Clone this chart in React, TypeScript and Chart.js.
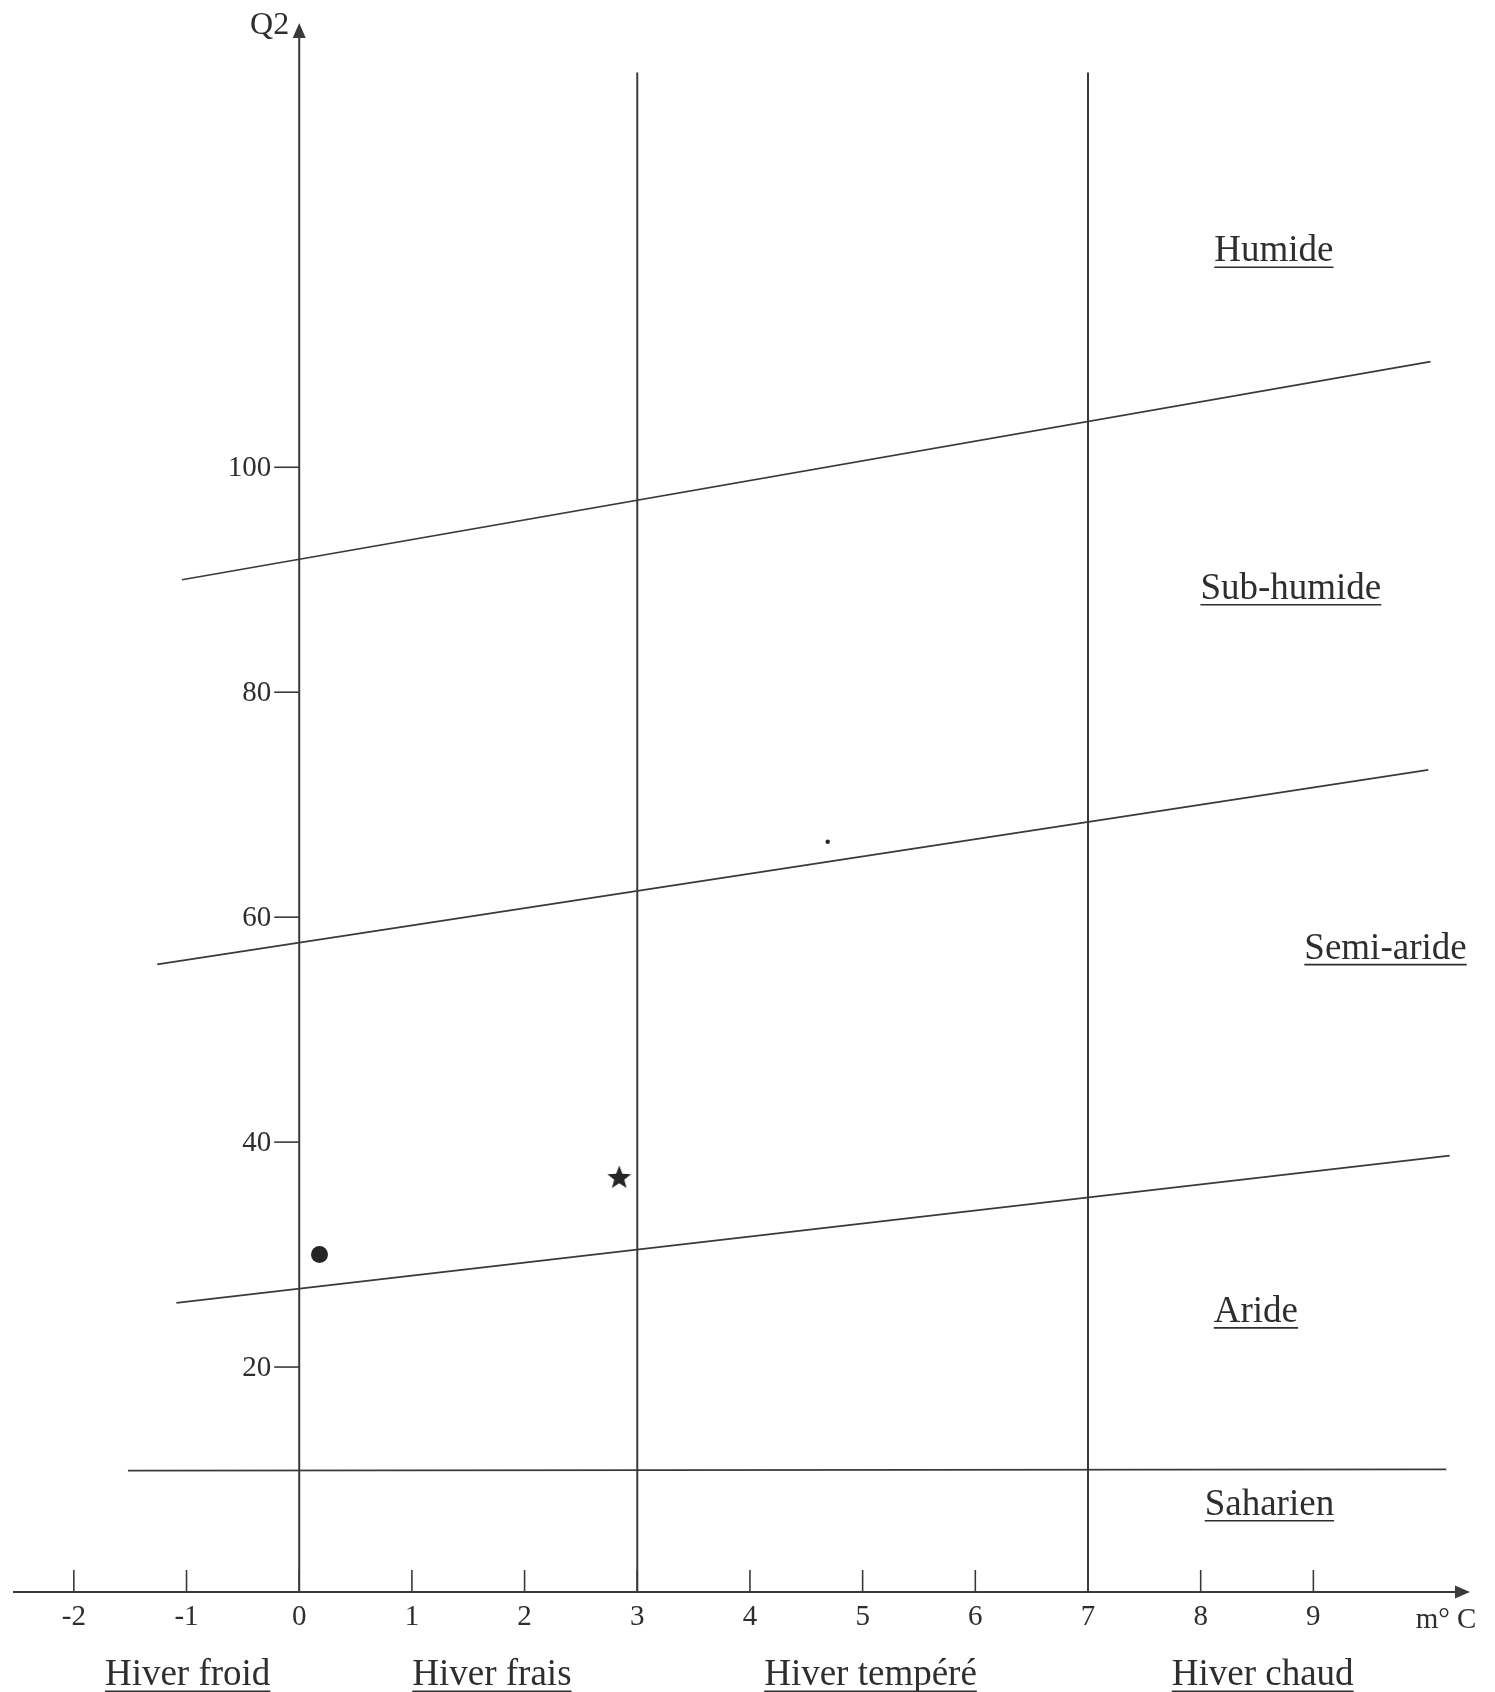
import React, { useEffect, useRef } from 'react';
import { Chart, registerables } from 'chart.js';

Chart.register(...registerables);

// ---- Axis ticks ----
const TEMP_TICKS = [-2, -1, 0, 1, 2, 3, 4, 5, 6, 7, 8, 9];
const Q2_TICKS = [20, 40, 60, 80, 100];
const M_RANGE = [-2.54, 10.39];
const Q2_RANGE = [0, 139.5];

// ---- Bioclimatic limits (m °C, Q2) ----
const LIMIT_HUMIDE_M = [-1.04, 10.04];
const LIMIT_HUMIDE_Q2 = [90.0, 109.4];
const LIMIT_SUBHUMIDE_M = [-1.26, 10.02];
const LIMIT_SUBHUMIDE_Q2 = [55.8, 73.1];
const LIMIT_SEMIARIDE_M = [-1.09, 10.21];
const LIMIT_SEMIARIDE_Q2 = [25.7, 38.8];
const LIMIT_ARIDE_M = [-1.52, 10.18];
const LIMIT_ARIDE_Q2 = [10.8, 10.9];

// ---- Winter limits ----
const WINTER_LIMITS_M = [3, 7];
const WINTER_LIMIT_Q2 = [0, 135.1];

// ---- Stations ----
const CIRCLE_STATION_M = [0.18];
const CIRCLE_STATION_Q2 = [30.0];
const STAR_STATION_M = [2.84];
const STAR_STATION_Q2 = [36.9];
const DOT_M = [4.69];
const DOT_Q2 = [66.7];

// ---- Zone labels ----
const ZONE_NAMES = ['Humide', 'Sub-humide', 'Semi-aride', 'Aride', 'Saharien'];
const ZONE_LABEL_M = [8.65, 8.8, 9.64, 8.49, 8.61];
const ZONE_LABEL_Q2 = [119.4, 89.4, 57.4, 25.1, 7.96];

// ---- Winter labels ----
const WINTER_NAMES = ['Hiver froid', 'Hiver frais', 'Hiver tempéré', 'Hiver chaud'];
const WINTER_LABEL_M = [-0.99, 1.71, 5.07, 8.55];

const Y_TITLE = 'Q2';
const X_TITLE = 'm° C';

const TEXT_COLOR = '#2e2e2e';
const LINE_COLOR = '#3a3a3a';
const POINT_COLOR = '#262626';
const FONT = '"Liberation Serif", "DejaVu Serif", serif';

const drawUnderlined = (ctx: CanvasRenderingContext2D, text: string, cx: number, cy: number, size: number) => {
  ctx.font = `${size}px ${FONT}`;
  ctx.textAlign = 'center';
  ctx.textBaseline = 'alphabetic';
  const baseline = cy + size * 0.33;
  ctx.fillText(text, cx, baseline);
  const w = ctx.measureText(text).width;
  ctx.lineWidth = 1.6;
  ctx.beginPath();
  ctx.moveTo(cx - w / 2, baseline + 6);
  ctx.lineTo(cx + w / 2, baseline + 6);
  ctx.stroke();
};

const climagramPlugin = {
  id: 'climagram',
  afterDatasetsDraw(chart: any) {
    const { ctx, chartArea } = chart;
    const xs = chart.scales.x;
    const ys = chart.scales.y;
    const x0 = xs.getPixelForValue(0);
    const y0 = ys.getPixelForValue(0);
    ctx.save();
    ctx.strokeStyle = LINE_COLOR;
    ctx.fillStyle = LINE_COLOR;
    ctx.lineWidth = 2;

    // x axis with arrow
    const aLen = 15;
    const aHalf = 6.5;
    ctx.beginPath();
    ctx.moveTo(chartArea.left, y0);
    ctx.lineTo(chartArea.right - aLen + 1, y0);
    ctx.stroke();
    ctx.beginPath();
    ctx.moveTo(chartArea.right, y0);
    ctx.lineTo(chartArea.right - aLen, y0 - aHalf);
    ctx.lineTo(chartArea.right - aLen, y0 + aHalf);
    ctx.closePath();
    ctx.fill();

    // y axis with arrow
    ctx.beginPath();
    ctx.moveTo(x0, y0);
    ctx.lineTo(x0, chartArea.top + aLen - 1);
    ctx.stroke();
    ctx.beginPath();
    ctx.moveTo(x0, chartArea.top);
    ctx.lineTo(x0 - aHalf, chartArea.top + aLen);
    ctx.lineTo(x0 + aHalf, chartArea.top + aLen);
    ctx.closePath();
    ctx.fill();

    // x ticks (upwards) and labels
    ctx.lineWidth = 1.6;
    ctx.fillStyle = TEXT_COLOR;
    ctx.font = `29px ${FONT}`;
    ctx.textAlign = 'center';
    ctx.textBaseline = 'middle';
    TEMP_TICKS.forEach((v) => {
      const px = xs.getPixelForValue(v);
      ctx.beginPath();
      ctx.moveTo(px, y0);
      ctx.lineTo(px, y0 - 22);
      ctx.stroke();
      ctx.fillText(String(v), px, y0 + 25);
    });

    // y ticks (leftwards) and labels
    ctx.textAlign = 'right';
    Q2_TICKS.forEach((v) => {
      const py = ys.getPixelForValue(v);
      ctx.beginPath();
      ctx.moveTo(x0 - 25, py);
      ctx.lineTo(x0, py);
      ctx.stroke();
      ctx.fillText(String(v), x0 - 28, py + 1);
    });

    // axis titles
    ctx.font = `32px ${FONT}`;
    ctx.textAlign = 'right';
    ctx.fillText(Y_TITLE, x0 - 10, chartArea.top + 3);
    ctx.font = `29px ${FONT}`;
    ctx.textAlign = 'center';
    ctx.fillText(X_TITLE, chartArea.right - 24, y0 + 28);

    // zone labels
    ctx.strokeStyle = TEXT_COLOR;
    ZONE_NAMES.forEach((name, i) => {
      drawUnderlined(ctx, name, xs.getPixelForValue(ZONE_LABEL_M[i]), ys.getPixelForValue(ZONE_LABEL_Q2[i]), 37);
    });

    // winter labels
    WINTER_NAMES.forEach((name, i) => {
      drawUnderlined(ctx, name, xs.getPixelForValue(WINTER_LABEL_M[i]), y0 + 81, 37);
    });

    ctx.restore();
  },
};

export default function App() {
  const ref = useRef<HTMLCanvasElement>(null);

  useEffect(() => {
    const canvas = ref.current;
    if (!canvas) return;

    const star = document.createElement('canvas');
    star.width = 28;
    star.height = 28;
    const sctx = star.getContext('2d');
    if (sctx) {
      sctx.fillStyle = POINT_COLOR;
      sctx.beginPath();
      for (let i = 0; i < 10; i++) {
        const r = i % 2 === 0 ? 12.5 : 5.3;
        const a = -Math.PI / 2 + (i * Math.PI) / 5;
        const px = 14 + r * Math.cos(a);
        const py = 15 + r * Math.sin(a);
        if (i === 0) sctx.moveTo(px, py);
        else sctx.lineTo(px, py);
      }
      sctx.closePath();
      sctx.fill();
    }

    const toPoints = (ms: number[], qs: number[]) => ms.map((m, i) => ({ x: m, y: qs[i] }));
    const lineDs = (label: string, ms: number[], qs: number[], width = 1.7) => ({
      label,
      data: toPoints(ms, qs),
      showLine: true,
      borderColor: LINE_COLOR,
      borderWidth: width,
      pointRadius: 0,
      pointHoverRadius: 0,
      fill: false,
      tension: 0,
    });

    const datasets: any[] = [
      lineDs('Humide / Sub-humide', LIMIT_HUMIDE_M, LIMIT_HUMIDE_Q2),
      lineDs('Sub-humide / Semi-aride', LIMIT_SUBHUMIDE_M, LIMIT_SUBHUMIDE_Q2),
      lineDs('Semi-aride / Aride', LIMIT_SEMIARIDE_M, LIMIT_SEMIARIDE_Q2),
      lineDs('Aride / Saharien', LIMIT_ARIDE_M, LIMIT_ARIDE_Q2),
      ...WINTER_LIMITS_M.map((m) => lineDs(`m = ${m} °C`, [m, m], WINTER_LIMIT_Q2, 2)),
      {
        label: 'Station (cercle)',
        data: toPoints(CIRCLE_STATION_M, CIRCLE_STATION_Q2),
        pointStyle: 'circle',
        pointRadius: 8.5,
        backgroundColor: POINT_COLOR,
        borderColor: POINT_COLOR,
        borderWidth: 0,
      },
      {
        label: 'Station (étoile)',
        data: toPoints(STAR_STATION_M, STAR_STATION_Q2),
        pointStyle: star,
        pointRadius: 12,
        backgroundColor: POINT_COLOR,
        borderColor: POINT_COLOR,
      },
      {
        label: 'Point',
        data: toPoints(DOT_M, DOT_Q2),
        pointStyle: 'circle',
        pointRadius: 2.2,
        backgroundColor: POINT_COLOR,
        borderColor: POINT_COLOR,
        borderWidth: 0,
      },
    ];

    const chart = new Chart(canvas, {
      type: 'scatter',
      data: { datasets },
      options: {
        responsive: false,
        animation: false,
        devicePixelRatio: 1,
        layout: { padding: { left: 9, right: 25, top: 23, bottom: 100 } },
        plugins: { legend: { display: false }, tooltip: { enabled: false } },
        scales: {
          x: { type: 'linear', min: M_RANGE[0], max: M_RANGE[1], display: false },
          y: { type: 'linear', min: Q2_RANGE[0], max: Q2_RANGE[1], display: false },
        },
      },
      plugins: [climagramPlugin],
    } as any);

    return () => chart.destroy();
  }, []);

  return (
    <div style={{ position: 'absolute', left: 0, top: 0, width: 1495, height: 1692, background: '#ffffff', overflow: 'hidden' }}>
      <canvas ref={ref} width={1495} height={1692} style={{ display: 'block' }} />
    </div>
  );
}
